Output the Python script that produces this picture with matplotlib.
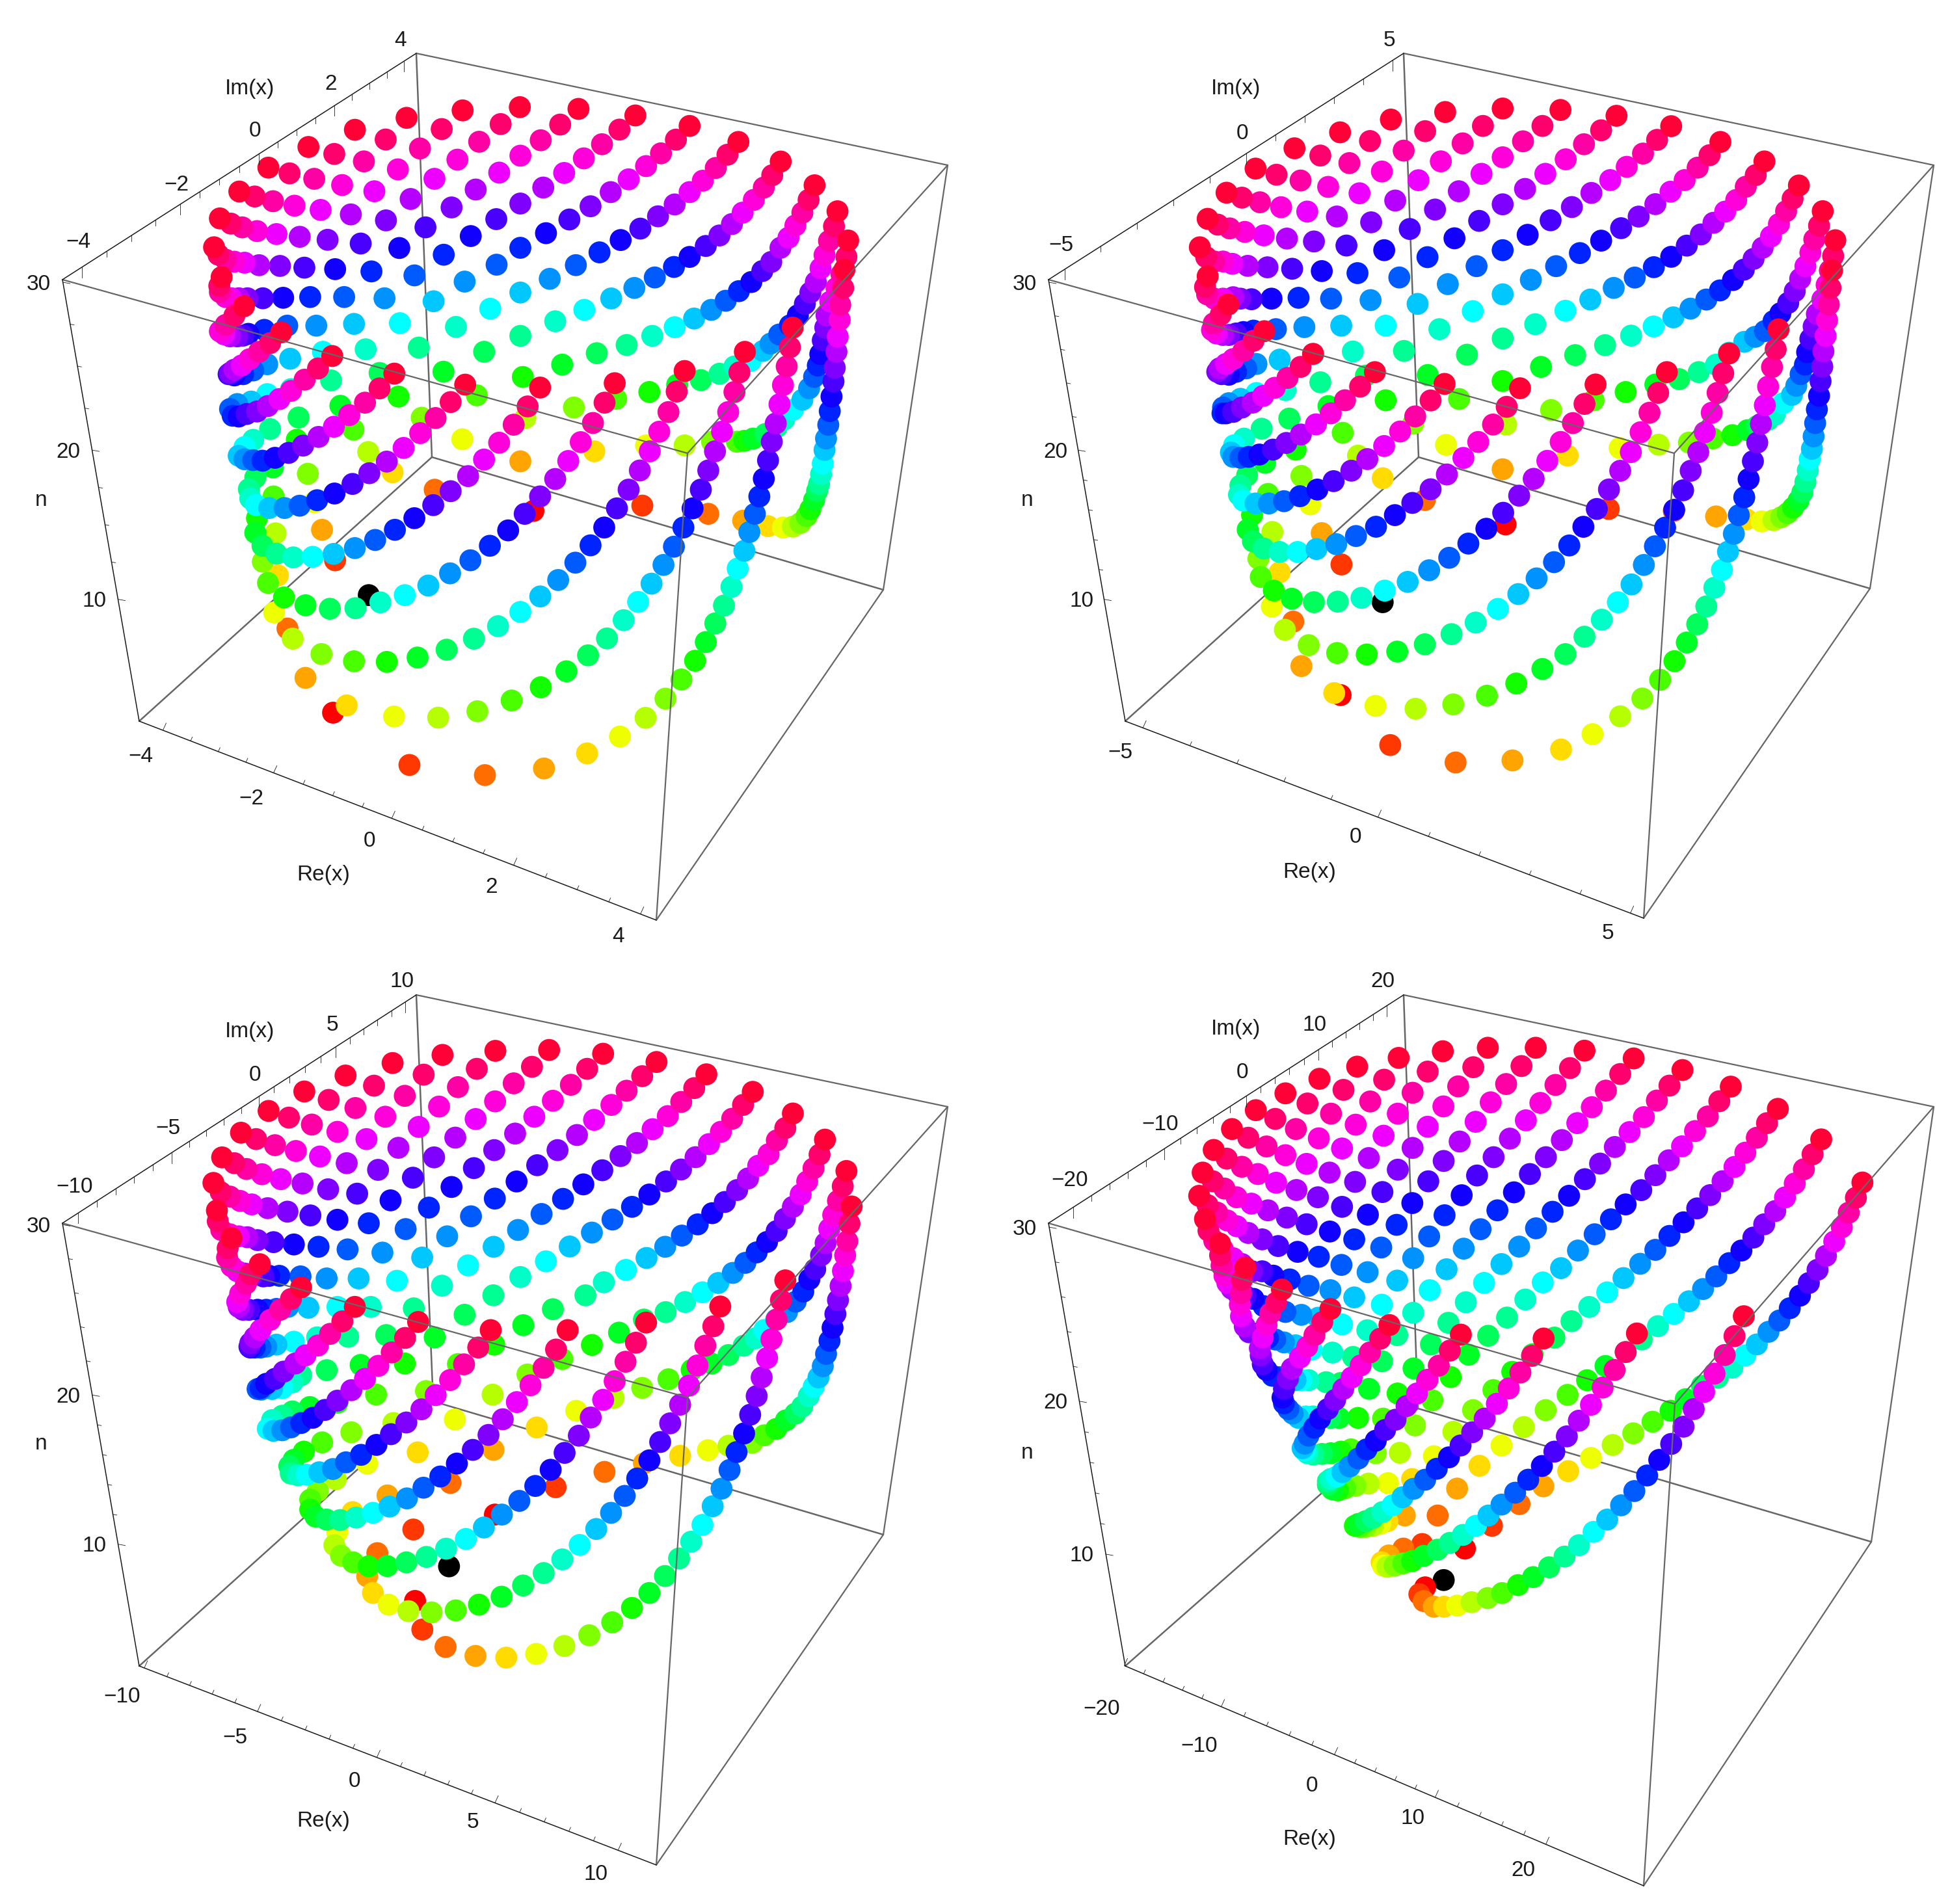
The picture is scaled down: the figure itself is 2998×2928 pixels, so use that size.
import matplotlib
matplotlib.use("Agg")
import matplotlib.pyplot as plt
from matplotlib.colors import hsv_to_rgb

# Every dot was read off the picture, as its position on the page (the true Re/Im
# values cannot be recovered from a single 3D view).  Readings were taken in enlarged
# crops of the page; crop() maps a crop reading back to page pixels.
def crop(x0, y0, sx, sy):
    def read(*v):
        return [(x0 + v[i] / sx, y0 + v[i + 1] / sy) for i in range(0, len(v), 2)]
    return read

a1 = crop(280, 120, 2.24, 2.613); b1 = crop(300, 500, 2.24, 2.24); c1 = crop(800, 120, 2.613, 1.425)
a2 = crop(1800, 120, 2.24, 2.24); b2 = crop(1820, 560, 2.24, 2.24); c2 = crop(2400, 180, 3, 1.568)
a3 = crop(300, 1570, 2.24, 2.24); b3 = crop(360, 2000, 2.24, 2.613); c3 = crop(900, 1570, 3, 1.742)
a4 = crop(1820, 1580, 2.24, 2.24); b4 = crop(1950, 1950, 2.24, 2.851); c4 = crop(2400, 1570, 3, 1.96)

# Each series is one root followed through n = 29, 28, 27, ... as far down as it exists.
panel1 = [
 c1(1302,420,1297,460,1285,497,1283,530,1275,567,1270,600,1263,635,1258,665,1250,698,1243,730,1237,760,1228,790,1222,815,1215,845,1208,868,1200,890,1192,905,1180,925,1165,945,1150,960,1125,975,1095,983,1055,985,995,982,895,970,755,955,490,937)+b1(1165,640,598,930),
 c1(1317,356,1310,392,1290,430,1270,460,1245,490,1230,520,1225,547,1215,575,1205,605,1195,630,1180,655,1160,680,1133,705,1095,727,1060,748,1030,765,985,780,935,790,900,795,870,797,770,797,660,805,505,805,297,818,0,840)+b1(825,567,482,810),
 c1(1274,292,1260,325,1240,357,1222,388,1206,417,1187,447,1165,470,1143,495,1115,520,1083,542,1040,562,1005,582,975,598,925,620,860,632,800,648,725,662,630,672,518,688,385,703,215,722,20,745)+b1(920,393,680,507,437,705),
 c1(1182,235,1158,267,1133,295,1105,323,1077,350,1045,372,1008,403,972,423,928,447,878,467,825,488,767,508,698,527,620,546,530,565,427,585,307,603,168,628,10,655)+a1(1015,1275,825,1365)+b1(596,437),
 c1(1046,183,1012,213,978,240,938,267,893,295,850,320,800,345,745,368,680,392,617,414,540,437,458,460,365,483,257,508,140,533,0,565)+a1(1040,1100,900,1180,745,1280,590,1413)+b1(388,512),
 c1(876,140,832,168,785,197,733,225,680,250,620,277,553,303,482,330,403,355,318,382,223,410,118,440,0,470)+a1(1061,927,943,1000,815,1083,680,1185,545,1317)+b1(350,395),
 c1(680,105,625,135,565,165,505,193,435,222,363,250,282,281,197,310,103,340,0,372)+a1(1083,750,973,818,866,897,750,985,632,1090,513,1215,401,1364),
 c1(462,82,398,113,328,145,255,176,176,208,92,240,0,275)+a1(1082,567,994,635,901,710,800,793,697,885,592,988,485,1100,375,1250),
 a1(1365,124,1302,187,1235,250,1165,312,1092,380,1011,448,928,520,838,600,748,683,652,777,558,880,462,995,372,1128),
 a1(1163,117,1097,185,1023,256,948,328,869,405,787,486,702,572,615,665,527,768,441,880,362,995),
 a1(966,130,894,205,819,283,743,367,662,455,581,548,501,650,421,762,348,883),
 a1(773,160,701,247,626,335,551,430,477,530,405,638,337,755),
 a1(595,208,524,305,455,405,387,513,325,627),
 a1(435,277,370,383,313,495),
 a1(297,360),
 a1(197,456,250,476),
 a1(130,564,168,585,207,600,258,615),
 a1(110,680,125,710,150,730,180,738,215,742,265,752),
 a1(136,800,128,835,130,860,150,880,170,885,195,885,225,885,278,885),
 a1(213,917,180,955,150,992,130,1018,145,1030,165,1038,190,1038,210,1035,228,1028,283,1012),
 a1(341,1022,303,1065,265,1100,232,1130,205,1155,180,1172,165,1185,160,1190,180,1195,210,1190,245,1175,293,1150),
 a1(517,1117,468,1167,422,1212,375,1257,335,1290,295,1318,258,1340,222,1350,195,1360,174,1357,165,1330,190,1310,238,1300,293,1270),
 b1(686,167,635,218,585,267,531,310,478,350,425,385,372,415,322,440,275,457,232,467,200,465,170,462,150,450,170,420,200,395,258,358),
 b1(930,205,880,265,828,320,775,372,718,423,660,470,600,510,542,547,480,580,420,603,360,622,308,630,255,630,210,620,190,597,185,565,207,525,268,490),
 b1(1188,215,1145,280,1097,343,1047,405,995,463,940,520,880,572,820,620,755,665,688,705,620,740,550,768,477,788,405,798,338,800,280,787,232,760,207,715,213,665,270,590),
 b1(1445,200,1410,267,1370,337,1328,403,1285,468,1240,530,1188,590,1135,650,1078,707,1015,760,948,810,878,855,803,897,722,930,638,955,552,975,464,977,380,965,306,938,251,888,233,815,277,717,410,610),
 c1(660,642,628,687,595,732,558,775,520,818,480,860,435,902,388,943,337,985,282,1024,221,1062,152,1100,80,1136,0,1170)+b1(1043,1037,960,1080,866,1118,766,1145,660,1160,547,1158,435,1133,336,1080,272,990,285,862),
 c1(902,600,880,645,860,688,835,732,810,775,782,818,755,860,725,902,692,943,655,985,617,1027,575,1067,527,1108,473,1148,415,1188,348,1228,272,1265,185,1300,82,1335)+b1(1090,1293,972,1330,837,1352,685,1348,522,1310,380,1215,318,1045),
 c1(1094,547,1083,590,1070,632,1055,673,1041,715,1026,757,1010,797,995,838,978,878,960,917,942,955,920,995,900,1036,873,1075,848,1115,818,1156,783,1195,745,1236,702,1277,647,1318,583,1360,503,1402,400,1443,268,1480,95,1513)+b1(998,1550,738,1515,475,1335),
]

panel2 = [
 c2(1250,370,1243,412,1235,452,1227,490,1220,528,1210,565,1205,602,1197,637,1190,672,1180,705,1172,738,1165,770,1157,800,1147,825,1138,852,1127,880,1113,905,1095,925,1070,942,1045,955,1015,965,980,972,925,975,855,970,715,963,520,950,220,945)+b2(1108,552,685,820),
 c2(1265,297,1255,335,1240,370,1225,405,1205,440,1180,475,1165,505,1150,535,1135,567,1125,597,1105,620,1085,648,1065,670,1025,690,985,718,955,730,905,745,860,755,790,767,700,775,590,785,450,790,270,798)+b2(1322,315,1098,362,830,468,543,690),
 c2(1207,227,1190,262,1168,295,1150,327,1127,360,1103,390,1078,420,1048,448,1012,473,980,492,940,516,895,530,845,542,775,568,715,597,635,615,545,632,435,645,298,663,150,683)+b2(1265,158,1110,208,903,278,685,393,475,582),
 c2(1097,165,1068,197,1038,227,1005,258,968,288,930,315,888,342,843,368,793,393,733,418,670,440,597,462,518,483,427,505,323,527,203,550,65,574)+a2(1275,995)+b2(1098,58,948,120,790,205,600,315),
 c2(938,107,898,140,852,168,808,200,757,228,703,255,645,283,580,310,508,337,428,362,340,387,243,412,135,440,20,467)+a2(1255,848,1143,897,1020,953,885,1023,740,1110,592,1222)+b2(405,385),
 c2(735,60,685,92,630,122,570,152,505,180,435,210,358,240,277,268,185,298,87,328)+a2(1327,648,1240,695,1143,745,1040,803,925,865,803,940,672,1025,543,1130,430,1280),
 c2(508,22,443,55,378,88,303,120,227,152,140,183,50,217)+a2(1308,490,1229,540,1143,593,1053,648,954,710,850,778,740,853,627,942,515,1048,408,1173),
 a2(1535,130,1482,180,1423,228,1360,280,1290,330,1220,382,1143,435,1062,492,977,552,884,617,787,687,688,765,587,853,490,953,395,1075),
 a2(1342,110,1280,165,1213,218,1143,273,1070,330,992,390,910,453,823,520,735,593,643,672,552,760,460,858,375,970),
 a2(1143,105,1075,165,1005,225,930,287,853,352,773,422,690,497,605,577,520,665,440,757,362,865),
 a2(945,117,876,183,802,250,727,322,650,397,572,477,493,563,418,657,347,760),
 a2(758,143,686,217,615,293,542,375,470,460,400,553,333,652),
 a2(583,187,515,267,447,353,380,445,320,542),
 a2(426,242,364,333,307,428),
 a2(292,312),
 a2(192,395,245,412),
 a2(127,485,162,505,203,518,255,530),
 a2(100,583,122,617,150,632,180,632,212,640,265,647),
 a2(127,683,118,720,125,745,150,760,180,760,215,755,240,760,278,762),
 a2(198,780,172,815,148,845,142,868,158,880,180,885,200,885,225,880,250,875,285,870),
 a2(322,872,285,905,250,940,215,968,190,985,168,1000,160,1012,175,1020,200,1022,225,1012,260,1000,295,985),
 a2(490,950,447,995,402,1033,358,1067,318,1095,282,1118,245,1135,215,1150,190,1155,178,1155,180,1135,200,1120,240,1105,295,1085),
 a2(703,1013,652,1063,600,1110,551,1155,500,1193,448,1228,398,1257,352,1280,305,1297,268,1305,240,1308,215,1305,207,1290,218,1265,252,1242,313,1208),
 b2(898,68,850,125,797,180,745,232,690,282,632,327,577,367,516,403,460,432,400,455,345,472,293,480,247,480,205,470,190,450,195,418,218,383,280,340),
 b2(1158,83,1112,147,1065,208,1014,268,963,323,906,380,850,431,787,478,727,520,662,560,593,592,525,620,457,637,392,647,330,647,275,635,238,610,220,570,235,520,290,447),
 b2(1418,70,1380,137,1340,203,1298,268,1252,333,1205,395,1155,453,1100,512,1042,567,980,618,914,667,845,710,771,750,692,780,612,805,530,818,448,820,372,808,310,780,265,733,257,670,305,578,435,483),
 c2(488,615,448,665,408,713,367,760,322,808,273,853,221,898,165,945,103,988,38,1033)+b2(1275,682,1215,738,1152,792,1082,843,1005,890,922,930,830,965,735,990,630,1000,528,995,430,968,348,915,303,835,330,717),
 c2(775,570,748,618,722,665,695,713,663,760,633,808,598,853,563,900,522,947,480,990,433,1035,382,1080,325,1127,262,1170,188,1212,108,1253,20,1295)+b2(1235,1050,1145,1100,1044,1142,928,1172,798,1187,660,1177,518,1133,405,1040,377,887),
 c2(1003,512,990,560,973,603,955,650,940,695,922,740,905,785,885,830,865,873,845,917,820,960,797,1005,770,1048,742,1092,707,1135,670,1180,628,1223,580,1267,523,1312,457,1357,375,1402,273,1445,145,1488,0,1525)+b2(1132,1365,936,1372,711,1312,540,1140),
]

panel3 = [
 c3(1228,497,1218,543,1208,590,1198,628,1188,670,1177,710,1165,748,1153,785,1140,822,1126,857,1110,892,1095,925,1075,955,1053,980,1030,1005,1000,1033,968,1052,925,1070,880,1093,825,1110,770,1130,660,1138,565,1150,437,1165,270,1185,88,1208)+b3(1107,750,898,860,740,1068),
 c3(1204,402,1187,443,1165,482,1143,520,1125,557,1108,595,1087,628,1060,665,1033,692,1005,725,970,752,930,780,880,800,825,828,785,850,730,870,660,895,582,918,490,935,383,960,262,983,130,1010)+b3(1178,443,1042,510,893,600,745,733,617,920),
 c3(1105,318,1080,358,1052,395,1023,430,993,465,957,498,920,530,882,563,838,592,790,620,738,648,680,675,613,702,540,727,460,753,370,780,270,800,155,835,30,868)+b3(1130,235,1010,297,890,378,760,478,632,610,528,783),
 c3(957,248,922,287,883,320,845,357,797,388,750,422,700,453,643,485,585,515,518,545,445,575,368,605,282,635,187,667,85,700,0,735)+a3(1232,993,1130,1048,1030,1115,905,1182,795,1275,683,1385),
 c3(772,190,727,225,677,262,625,297,570,330,508,365,441,398,372,430,295,465,215,498,125,532,30,567)+a3(1290,777,1208,828,1120,882,1027,945,928,1012,825,1090,722,1180,623,1287,538,1417),
 c3(558,143,502,180,442,217,380,255,310,290,238,327,162,362,78,400)+a3(1337,563,1267,613,1193,665,1112,720,1028,778,940,842,850,912,753,990,658,1082,570,1185,490,1315),
 c3(328,110,262,148,190,187,120,225,40,265)+a3(1315,393,1248,445,1178,497,1107,553,1032,612,950,673,868,742,782,815,695,895,605,985,527,1088,453,1203),
 a3(1405,113,1350,165,1294,220,1232,275,1168,330,1102,388,1030,445,960,507,883,572,805,643,725,717,645,798,563,887,490,985,420,1090),
 a3(1219,100,1160,158,1097,215,1033,277,966,338,896,402,823,470,750,540,673,618,598,697,525,787,453,887,390,988),
 a3(1034,103,970,165,905,228,840,295,770,365,700,437,630,513,558,595,490,685,425,778,363,880),
 a3(852,117,787,185,722,258,655,330,590,407,522,490,458,580,397,670,340,770),
 a3(680,145,616,223,552,300,490,382,430,467,370,560,318,657),
 a3(518,188,460,272,402,357,347,448,295,545),
 a3(376,243,323,333,275,428),
 a3(253,310),
 a3(158,385,210,407),
 a3(93,470,135,490,177,510,230,528),
 a3(63,558,88,590,120,605,155,620,195,632,250,645),
 a3(75,653,78,690,90,720,120,735,150,742,180,745,215,755,270,762),
 a3(125,748,112,783,110,815,125,845,145,862,170,870,195,878,235,880,255,878,290,878),
 a3(223,838,190,872,175,905,155,940,145,968,150,985,165,995,185,995,215,995,245,995,280,992,320,985),
 a3(365,918,330,958,293,995,258,1030,225,1065,205,1090,190,1110,187,1122,190,1125,205,1125,225,1125,245,1122,280,1115,340,1105),
 a3(550,985,507,1035,465,1078,423,1118,380,1152,345,1180,305,1208,275,1233,245,1250,225,1265,215,1268,228,1270,265,1268,300,1265,335,1245,365,1220),
 a3(768,1037,723,1092,677,1142,631,1188,585,1233,538,1272,490,1308,447,1340,405,1367,365,1385,330,1400,300,1410,270,1412,250,1405,265,1375,300,1360,335,1345,395,1330),
 a3(1018,1065,975,1125,926,1183,878,1237)+b3(694,380,645,437,593,490,540,537,490,580,437,620,385,650,340,677,293,690,250,700,220,702,195,695,190,665,205,640,240,607,303,570),
 a3(1283,1065,1243,1132,1200,1195,1155,1255,1108,1313)+b3(925,477,876,540,822,600,767,655,710,707,652,752,595,795,535,828,478,853,420,872,365,882,318,880,280,868,262,840,262,800,288,765,350,718,458,655),
 c3(280,808,233,862,185,913,135,965,82,1015)+b3(1228,470,1187,543,1138,612,1090,680,1037,745,982,805,922,860,860,912,798,958,730,997,662,1030,593,1052,527,1067,463,1068,410,1052,368,1025,345,983,355,930,408,850),
 c3(622,765,590,818,553,870,517,923,478,977,437,1028,391,1078,345,1128)+b3(1430,642,1388,715,1345,785,1298,853,1247,918,1190,982,1130,1040,1066,1095,995,1145,921,1190,843,1222,763,1245,680,1253,600,1248,532,1222,478,1175,458,1108,493,1015),
 c3(922,695,902,748,882,800,858,853,838,903,813,955,790,1005,760,1055,732,1105,697,1155,665,1203,628,1253,587,1300,540,1350,488,1395,432,1440,367,1487)+b3(1430,1175,1370,1235,1302,1293,1223,1345,1137,1388,1040,1420,937,1435,831,1428,728,1392,648,1322,623,1207),
]

panel4 = [
 c4(1390,487,1360,533,1327,578,1295,622,1260,665,1222,708,1183,750,1143,790,1102,828,1055,866,1007,903,957,937,903,975,850,1008,790,1045,722,1075,650,1100,575,1140,505,1175,422,1208,333,1243,238,1278,138,1317,33,1357)+b4(947,957,865,1035,770,1130,677,1230,604,1368),
 c4(1200,357,1160,402,1120,447,1078,490,1033,532,988,573,937,613,887,653,832,692,776,730,716,770,655,808,590,845,520,883,447,920,372,960,298,998,205,1040,120,1083,30,1127)+b4(955,623,880,697,803,778,727,867,650,967,583,1085,530,1210),
 c4(1000,265,950,308,903,352,850,397,800,440,745,483,688,525,628,565,565,607,500,648,435,690,365,732,288,775,213,818,130,862,48,905)+b4(985,305,910,378,840,455,775,535,705,623,637,718,570,825,495,925,470,1085),
 c4(783,198,730,242,677,288,618,332,558,378,497,420,435,465,370,510,298,553,230,598,155,643,78,692,0,745)+b4(945,63,885,138,822,217,757,297,690,380,628,478,565,580,505,690,453,810),
 c4(560,148,500,195,442,240,382,290,316,335,248,380,180,430,110,477,37,527)+a4(1270,635,1213,692,1155,755,1094,815,1034,880)+b4(680,150,620,240,560,335,500,440,445,550,395,660,370,812),
 c4(335,113,273,160,207,210,142,260,75,308)+a4(1302,388,1247,447,1192,505,1137,568,1080,630,1022,695,964,762,905,833,847,905,790,983,735,1060,683,1150,638,1245,600,1345),
 a4(1380,80,1330,140,1280,198,1228,260,1178,320,1123,383,1067,447,1010,510,957,578,898,647,845,720,790,795,735,872,682,955,632,1043,583,1135,540,1225),
 a4(1212,70,1163,133,1110,195,1057,258,1005,325,950,393,895,460,842,530,787,605,733,680,680,758,633,843,587,930,545,1023,512,1120),
 a4(1047,70,997,137,945,203,894,272,840,342,788,415,737,490,684,567,634,645,587,730,543,818,505,905,463,1000),
 a4(892,82,840,152,788,225,737,297,688,373,637,450,590,532,545,618,503,703,465,790,430,890),
 a4(740,105,690,180,642,255,592,335,545,417,502,500,462,585,423,678,392,773),
 a4(597,135,550,215,507,297,465,382,423,470,388,560,355,655),
 a4(467,177,426,262,386,350,350,440,318,535),
 a4(350,227,315,315,285,410),
 a4(248,285),
 a4(166,350,222,380),
 a4(103,422,148,452,200,480,255,505),
 a4(65,500,100,530,140,555,182,585,233,607,290,630),
 a4(53,580,82,612,115,638,150,665,183,685,222,708,270,730,325,753),
 a4(73,660,85,700,105,735,135,765,170,795,200,815,235,840,270,840,308,855,365,868),
 a4(125,745,125,785,130,820,140,855,150,880,165,900,185,915,212,925,240,935,275,960,350,980,405,990),
 a4(212,827,200,870,197,915,193,955,197,995,210,1030,225,1050,250,1055,270,1060,290,1070,315,1075,345,1085,385,1095,440,1110),
 a4(338,903,318,948,298,985,285,1025,272,1068,262,1105,265,1130,272,1160,285,1180,305,1200,330,1205,360,1210,385,1215,405,1215,430,1215,490,1222),
 a4(505,970,477,1015,450,1060,425,1100,400,1137,372,1175,358,1210,345,1245,340,1275,345,1295,360,1315,375,1330,395,1345,420,1340,445,1340,475,1345,505,1345,535,1345),
 b4(417,250,385,310,350,370,318,427,287,480,258,530,230,578,205,618,178,660,158,700,138,735,125,770,118,790,125,800,135,812,155,818,185,815,215,812,250,805,285,795),
 b4(663,292,625,362,587,428,548,490,512,550,476,605,438,665,402,710,370,757,338,795,310,835,280,870,255,895,235,915,215,925,205,935,205,950,220,970,240,975,265,965,300,955,345,945,412,943),
 b4(948,309,908,385,868,458,828,528,787,595,745,660,702,720,662,778,622,830,580,880,540,928,500,968,462,1005,428,1040,393,1070,360,1095,335,1110,310,1122,298,1130,315,1135,335,1135,360,1130,385,1122,410,1110),
 c4(350,942,298,998,247,1052,192,1105,138,1157,82,1205)+b4(1028,738,985,805,942,868,895,928,850,985,803,1037,758,1085,715,1130,670,1170,625,1205,582,1235,535,1262,495,1285,465,1295,435,1305,410,1310,395,1305,390,1290,415,1260,465,1230),
 c4(843,890,800,950,755,1007,708,1063,660,1118,612,1170,565,1223,508,1275,453,1323,397,1370,338,1417,277,1460,213,1503,150,1540)+b4(1070,1215,1020,1265,967,1312,912,1355,860,1390,805,1425,755,1447,700,1465,650,1480,605,1485,570,1485,535,1460,520,1430,540,1400),
]

# Box corners on the page: A front-left top, B back top, C right top, D front top,
# E front-left bottom, F front bottom, G right bottom, H hidden back-bottom corner
box1 = dict(A=(96,430), B=(640,82), C=(1457,254), D=(1057,697), E=(214,1109), F=(1009,1415), G=(1358,907), H=(664,703))
box2 = dict(A=(1612,430), B=(2158,82), C=(2973,254), D=(2574,697), E=(1730,1109), F=(2527,1412), G=(2875,905), H=(2181,703))
box3 = dict(A=(96,1881), B=(640,1530), C=(1457,1702), D=(1057,2149), E=(214,2562), F=(1009,2868), G=(1358,2360), H=(666,2155))
box4 = dict(A=(1612,1881), B=(2158,1530), C=(2973,1702), D=(2575,2159), E=(1730,2562), F=(2527,2900), G=(2877,2371), H=(2180,2166))

# Tick labels and where they stand (in the shrunk 1568-wide view)
re_ticks = [
 [("\u22124",113,607),("\u22122",202,641),("0",297,675),("2",395,712),("4",497,752)],
 [("\u22125",901,604),("0",1090,672),("5",1293,749)],
 [("\u221210",98,1363),("\u22125",189,1396),("0",285,1431),("5",380,1464),("10",479,1506)],
 [("\u221220",886,1373),("\u221210",964,1403),("0",1055,1435),("10",1136,1461),("20",1225,1503)],
]
im_ticks = [
 [("\u22124",63,193),("\u22122",142,147),("0",205,104),("2",266,66),("4",322,31)],
 [("\u22125",853,196),("0",999,106),("5",1117,31)],
 [("\u221210",60,953),("\u22125",135,906),("0",205,863),("5",267,823),("10",323,788)],
 [("\u221220",860,948),("\u221210",933,903),("0",999,861),("10",1057,823),("20",1112,788)],
]
n_ticks = [
 [("30",31,227),("20",55,362),("10",76,482)],
 [("30",824,227),("20",849,362),("10",870,482)],
 [("30",31,985),("20",55,1122),("10",76,1242)],
 [("30",824,987),("20",849,1127),("10",870,1250)],
]
axis_titles = [
 [("Im(x)",201,70),("n",33,401),("Re(x)",260,702)],
 [("Im(x)",994,70),("n",826,401),("Re(x)",1053,700)],
 [("Im(x)",201,828),("n",33,1160),("Re(x)",260,1463)],
 [("Im(x)",994,826),("n",826,1167),("Re(x)",1053,1478)],
]
minor_between = [3, 4, 4, 4]

SCALE = 2998 / 1568
GREY = "#666666"
INK = "#1a1a1a"
FS = 24

plt.rcParams["font.family"] = ["Liberation Sans", "DejaVu Sans"]
fig = plt.figure(figsize=(29.98, 29.28), dpi=100)
ax = fig.add_axes([0, 0, 1, 1])
ax.set_xlim(0, 2998)
ax.set_ylim(2928, 0)
ax.axis("off")

def edge(b, p, q, color, lw, z):
    ax.plot([b[p][0], b[q][0]], [b[p][1], b[q][1]], color=color, lw=lw, zorder=z, solid_capstyle="round")

def on_axis(b, p, q, tx=None, ty=None):
    """fraction along edge p-q at page x=tx or page y=ty"""
    if tx is not None:
        return (tx - b[p][0]) / (b[q][0] - b[p][0])
    return (ty - b[p][1]) / (b[q][1] - b[p][1])

def draw_ticks(b, p, q, fracs, d, minors):
    P, Q = b[p], b[q]
    at = lambda f: (P[0] + f * (Q[0] - P[0]), P[1] + f * (Q[1] - P[1]))
    for f in fracs:
        x, y = at(f)
        ax.plot([x, x + d[0]], [y, y + d[1]], color=INK, lw=0.6, zorder=4)
    for f0, f1 in zip(fracs[:-1], fracs[1:]):
        for k in range(1, minors + 1):
            x, y = at(f0 + (f1 - f0) * k / (minors + 1))
            ax.plot([x, x + d[0] * 0.55], [y, y + d[1] * 0.55], color=INK, lw=0.6, zorder=4)

for idx, (panel, b) in enumerate(zip([panel1, panel2, panel3, panel4], [box1, box2, box3, box4])):
    # back edges lie behind the dots, front edges over them
    for p, q in ["BH", "HE", "HG"]:
        edge(b, p, q, GREY, 1.8, 2)
    for p, q in ["BC", "CD", "DA", "DF", "FG", "GC"]:
        edge(b, p, q, GREY, 1.6, 4)
    for p, q in ["AB", "EF", "AE"]:
        edge(b, p, q, INK, 1.1, 4)

    # the dots: hue follows n; higher n sits nearer the viewer and covers lower n
    pts = []
    for series in panel:
        for i, (x, y) in enumerate(series):
            pts.append((29 - i, x, y))
    pts.sort(key=lambda t: t[0])
    xs = [t[1] for t in pts]
    ys = [t[2] for t in pts]
    cols = [(0, 0, 0) if t[0] <= 1 else tuple(hsv_to_rgb(((t[0] - 2) / 28, 1, 1))) for t in pts]
    ax.scatter(xs, ys, s=590, c=cols, linewidths=0, zorder=3)

    # ticks and labels
    fr = [on_axis(b, "E", "F", tx=(x + 18) * SCALE) for _, x, _ in re_ticks[idx]]
    draw_ticks(b, "E", "F", fr, (5, -11), minor_between[idx])
    fr = [on_axis(b, "A", "B", tx=(x + 3) * SCALE) for _, x, _ in im_ticks[idx]]
    draw_ticks(b, "A", "B", fr, (0, 16), minor_between[idx])
    fr = [on_axis(b, "A", "E", ty=y * SCALE) for _, _, y in n_ticks[idx]]
    draw_ticks(b, "A", "E", fr, (11, 2), minor_between[idx])
    for group in (re_ticks[idx], im_ticks[idx], n_ticks[idx], axis_titles[idx]):
        for s, x, y in group:
            ax.text(x * SCALE, y * SCALE + 3, s, fontsize=FS, color=INK, ha="center", va="center", zorder=5)

fig.savefig("out.png", dpi=100, facecolor="white")
